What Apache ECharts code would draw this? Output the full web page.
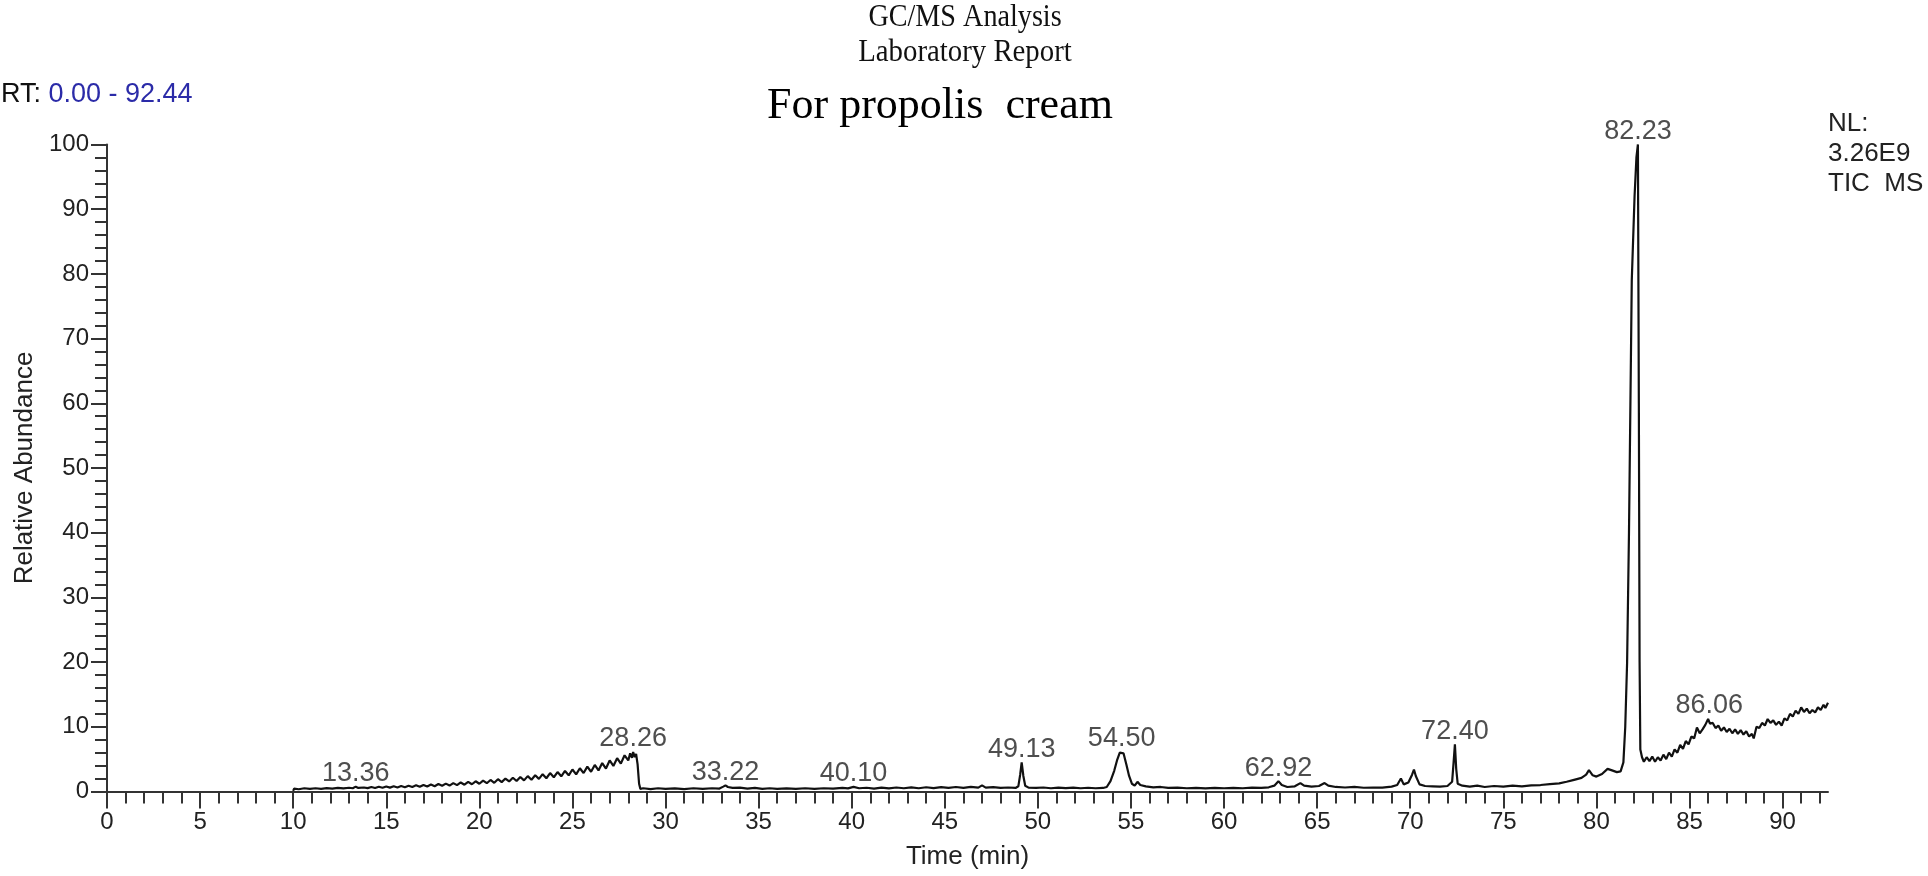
<!DOCTYPE html>
<html><head><meta charset="utf-8">
<script src="https://cdn.jsdelivr.net/npm/echarts@6/dist/echarts.min.js"></script>
<style>html,body{margin:0;padding:0;background:#fff}#c{width:1928px;height:876px}</style>
</head><body><div id="c"></div>
<script>
// ---- text content ----
const titleLines = ['GC/MS Analysis', 'Laboratory Report', 'For propolis  cream'];
const rtStart = '0.00';
const rtEnd = '92.44';
const nlLines = ['NL:', '3.26E9', 'TIC  MS'];
const xAxisName = 'Time (min)';
const yAxisName = 'Relative Abundance';

// ---- axes ----
const xMin = 0, xMax = 92.44;
const xMajorTicks = [0, 5, 10, 15, 20, 25, 30, 35, 40, 45, 50, 55, 60, 65, 70, 75, 80, 85, 90];
const xMinorTicks = Array.from({length: 93}, (_, i) => i);
const yMin = 0, yMax = 100, yInterval = 10;

// ---- TIC trace: [retention time (min), relative abundance] ----
const ticTrace = [
  [10.0,0.1],[10.05,0.45],[10.3,0.35],[10.6,0.5],[10.9,0.4],[11.2,0.5],[11.5,0.42],[11.8,0.52],[12.1,0.45],
  [12.4,0.55],[12.7,0.48],[13.0,0.58],[13.2,0.5],[13.36,0.75],[13.5,0.55],[13.8,0.62],[14.0,0.52],
  [14.2,0.70],[14.4,0.55],[14.6,0.74],[14.8,0.58],[15.0,0.78],[15.2,0.60],[15.4,0.80],[15.6,0.62],
  [15.8,0.85],[16.0,0.66],[16.2,0.90],[16.4,0.70],[16.6,0.95],[16.8,0.72],[17.0,1.02],[17.2,0.78],
  [17.4,1.08],[17.6,0.82],[17.8,1.15],[18.0,0.88],[18.2,1.22],[18.4,0.92],[18.6,1.30],[18.8,0.98],
  [19.0,1.40],[19.2,1.05],[19.4,1.48],[19.6,1.12],[19.8,1.58],[20.0,1.20],[20.2,1.68],[20.4,1.28],
  [20.6,1.78],[20.8,1.35],[21.0,1.90],[21.2,1.45],[21.4,2.00],[21.6,1.55],[21.8,2.12],[22.0,1.62],
  [22.2,2.25],[22.4,1.72],[22.6,2.38],[22.8,1.82],[23.0,2.52],[23.2,1.95],[23.4,2.68],[23.6,2.05],
  [23.8,2.85],[24.0,2.20],[24.2,3.00],[24.4,2.35],[24.6,3.18],[24.8,2.50],[25.0,3.40],[25.2,2.65],
  [25.4,3.60],[25.6,2.85],[25.8,3.85],[26.0,3.05],[26.2,4.10],[26.4,3.25],[26.6,4.40],[26.8,3.55],
  [27.0,4.80],[27.2,3.95],[27.4,5.15],[27.6,4.30],[27.8,5.60],[28.0,4.80],[28.1,5.90],[28.2,5.20],
  [28.26,6.10],[28.35,5.30],[28.42,5.80],[28.5,4.20],[28.58,1.20],[28.65,0.40],
  [28.8,0.5],[29.2,0.38],[29.6,0.5],[30.0,0.4],[30.5,0.48],[31.0,0.38],[31.5,0.5],[32.0,0.42],
  [32.5,0.5],[32.9,0.45],[33.1,0.75],[33.22,0.95],[33.35,0.7],[33.6,0.55],[34.0,0.6],[34.4,0.45],
  [34.8,0.55],[35.2,0.42],[35.6,0.5],[36.0,0.4],[36.5,0.48],[37.0,0.4],[37.5,0.5],[38.0,0.42],
  [38.5,0.5],[39.0,0.44],[39.5,0.55],[39.8,0.48],[40.1,0.72],[40.4,0.5],[40.8,0.58],[41.2,0.45],
  [41.6,0.6],[42.0,0.48],[42.4,0.62],[42.8,0.5],[43.2,0.65],[43.6,0.5],[44.0,0.66],[44.4,0.52],
  [44.8,0.68],[45.2,0.55],[45.6,0.7],[46.0,0.56],[46.4,0.72],[46.8,0.6],[47.0,0.95],[47.2,0.6],
  [47.6,0.68],[48.0,0.55],[48.4,0.62],[48.8,0.55],
  [48.95,0.8],[49.05,2.6],[49.13,4.5],[49.22,2.4],[49.32,0.9],[49.5,0.6],[49.9,0.55],[50.3,0.62],
  [50.7,0.5],[51.1,0.6],[51.5,0.52],[51.9,0.6],[52.3,0.5],[52.7,0.58],[53.1,0.5],[53.5,0.55],[53.7,0.7],
  [53.9,1.6],[54.1,3.2],[54.25,4.8],[54.4,6.0],[54.5,6.2],[54.6,5.9],[54.75,4.2],[54.9,2.4],[55.05,1.2],
  [55.2,0.9],[55.35,1.5],[55.5,1.0],[55.8,0.8],[56.2,0.65],[56.6,0.7],[57.0,0.55],[57.5,0.6],[58.0,0.5],
  [58.5,0.55],[59.0,0.48],[59.5,0.55],[60.0,0.5],[60.5,0.55],[61.0,0.5],[61.5,0.6],[62.0,0.55],
  [62.4,0.65],[62.7,0.9],[62.92,1.6],[63.1,1.0],[63.4,0.7],[63.8,0.8],[64.1,1.3],[64.3,0.9],[64.7,0.75],
  [65.1,0.85],[65.4,1.3],[65.6,0.9],[66.0,0.7],[66.5,0.62],[67.0,0.7],[67.5,0.58],[68.0,0.62],[68.5,0.6],
  [69.0,0.75],[69.3,1.0],[69.5,2.0],[69.65,1.1],[69.9,1.4],[70.1,2.6],[70.2,3.4],[70.3,2.4],[70.5,1.1],
  [70.8,0.85],[71.2,0.8],[71.6,0.75],[72.0,0.85],[72.25,1.5],[72.33,4.5],[72.4,7.3],[72.47,3.5],[72.55,1.2],
  [72.8,0.9],[73.2,0.75],[73.6,0.9],[74.0,0.7],[74.5,0.85],[75.0,0.75],[75.5,0.9],[76.0,0.8],[76.5,0.95],
  [77.0,1.0],[77.5,1.15],[78.0,1.25],[78.4,1.5],[78.8,1.8],[79.2,2.1],[79.45,2.6],[79.6,3.3],[79.8,2.5],
  [80.0,2.3],[80.3,2.7],[80.6,3.5],[80.8,3.3],[81.1,3.0],[81.3,3.1],[81.45,4.5],[81.55,10],[81.65,20],
  [81.75,40],[81.9,79],[82.05,92],[82.15,98],[82.23,100],[82.28,60],[82.32,20],[82.36,6.5],[82.45,5.3],
  [82.55,4.6],[82.7,5.3],[82.85,4.7],[83.0,5.4],[83.15,4.6],[83.3,5.3],[83.45,4.8],[83.6,5.7],[83.75,5.0],
  [83.9,6.0],[84.05,5.4],[84.2,6.5],[84.35,6.0],[84.5,7.2],[84.65,6.6],[84.8,7.8],[84.95,7.3],[85.1,8.5],
  [85.25,8.2],[85.4,9.9],[85.55,9.0],[85.7,9.6],[85.85,10.3],[86.0,11.2],[86.1,10.5],[86.25,10.6],
  [86.4,9.8],[86.55,10.2],[86.7,9.4],[86.85,9.9],[87.0,9.2],[87.15,9.7],[87.3,9.0],[87.45,9.6],[87.6,8.9],
  [87.75,9.5],[87.9,8.8],[88.05,9.3],[88.2,8.5],[88.35,8.9],[88.45,8.2],[88.6,10.0],[88.75,9.8],
  [88.9,10.6],[89.05,10.2],[89.2,11.2],[89.35,10.6],[89.5,11.0],[89.65,10.3],[89.8,10.8],[89.95,10.2],
  [90.1,11.3],[90.25,11.0],[90.4,12.0],[90.55,11.6],[90.7,12.5],[90.85,12.0],[91.0,13.0],[91.15,12.3],
  [91.3,12.8],[91.45,12.1],[91.6,12.6],[91.75,12.2],[91.9,13.0],[92.05,12.6],[92.2,13.4],[92.3,12.9],
  [92.44,13.7]
];

// ---- labelled peaks ----
const peakTimes   = [13.36, 28.26, 33.22, 40.10, 49.13, 54.50, 62.92, 72.40, 82.23, 86.06];
const peakHeights = [0.75,  6.1,   0.95,  0.72,  4.5,   6.2,   1.6,   7.3,   100,   11.2];

const SANS = '"Liberation Sans", Arial, sans-serif';
const SERIF = '"Liberation Serif", "Times New Roman", serif';
const AX = '#333';

const chart = echarts.init(document.getElementById('c'), null, {renderer: 'canvas'});
chart.setOption({
  animation: false,
  backgroundColor: '#fff',
  grid: {left: 107, right: 100, top: 144.5, bottom: 84.5, containLabel: false},
  xAxis: [
    {
      type: 'value', min: xMin, max: xMax, position: 'bottom',
      axisLine: {show: true, onZero: false, lineStyle: {color: AX, width: 2}},
      axisTick: {show: true, length: 17, customValues: xMajorTicks, lineStyle: {color: AX, width: 2}},
      axisLabel: {customValues: xMajorTicks, fontSize: 24, margin: 19, color: '#222', fontFamily: SANS},
      splitLine: {show: false},
      name: xAxisName, nameLocation: 'middle', nameGap: 52,
      nameTextStyle: {fontSize: 26, color: '#222', fontFamily: SANS}
    },
    {
      type: 'value', min: xMin, max: xMax, position: 'bottom',
      axisLine: {show: false},
      axisTick: {show: true, length: 12, customValues: xMinorTicks, lineStyle: {color: AX, width: 2}},
      axisLabel: {show: false},
      splitLine: {show: false}
    }
  ],
  yAxis: {
    type: 'value', min: yMin, max: yMax, interval: yInterval,
    axisLine: {show: true, onZero: false, lineStyle: {color: AX, width: 2}},
    axisTick: {show: true, length: 16, lineStyle: {color: AX, width: 2}},
    minorTick: {show: true, splitNumber: 5, length: 12, lineStyle: {color: AX, width: 2}},
    axisLabel: {fontSize: 24, margin: 18, color: '#222', fontFamily: SANS},
    splitLine: {show: false}, minorSplitLine: {show: false},
    name: yAxisName, nameLocation: 'middle', nameGap: 69, nameRotate: 90,
    nameTextStyle: {fontSize: 26, color: '#222', fontFamily: SANS}
  },
  series: [
    {
      type: 'line', xAxisIndex: 0, data: ticTrace, showSymbol: false, symbol: 'none',
      lineStyle: {color: '#111', width: 2.2}, silent: true
    },
    {
      type: 'scatter', xAxisIndex: 0,
      data: peakTimes.map((t, i) => [t, peakHeights[i]]),
      symbol: 'circle', symbolSize: 1, itemStyle: {color: 'transparent'}, silent: true,
      label: {
        show: true, position: 'top', distance: -1,
        formatter: p => p.value[0].toFixed(2),
        fontSize: 27, color: '#222', fontFamily: SANS
      }
    }
  ],
  graphic: [
    {type: 'text', x: 965, y: 18, scaleX: 0.88, style: {text: titleLines[0], fontSize: 32, fontFamily: SERIF, fill: '#111', align: 'center', verticalAlign: 'middle'}},
    {type: 'text', x: 965, y: 53, scaleX: 0.9, style: {text: titleLines[1], fontSize: 32, fontFamily: SERIF, fill: '#111', align: 'center', verticalAlign: 'middle'}},
    {type: 'text', x: 940, y: 106, style: {text: titleLines[2], fontSize: 44, fontFamily: SERIF, fill: '#000', align: 'center', verticalAlign: 'middle'}},
    {type: 'text', x: 1, y: 95, style: {
      text: '{a|RT:} {b|' + rtStart + ' - ' + rtEnd + '}',
      fontSize: 27, fontFamily: SANS, verticalAlign: 'middle',
      rich: {a: {fill: '#111', fontSize: 27, fontFamily: SANS}, b: {fill: '#2b2ba8', fontSize: 27, fontFamily: SANS}}
    }},
    {type: 'text', x: 1828, y: 109, style: {
      text: nlLines.join('\n'), fontSize: 26, lineHeight: 30, fontFamily: SANS, fill: '#222', verticalAlign: 'top'
    }}
  ]
});
</script>
</body></html>
